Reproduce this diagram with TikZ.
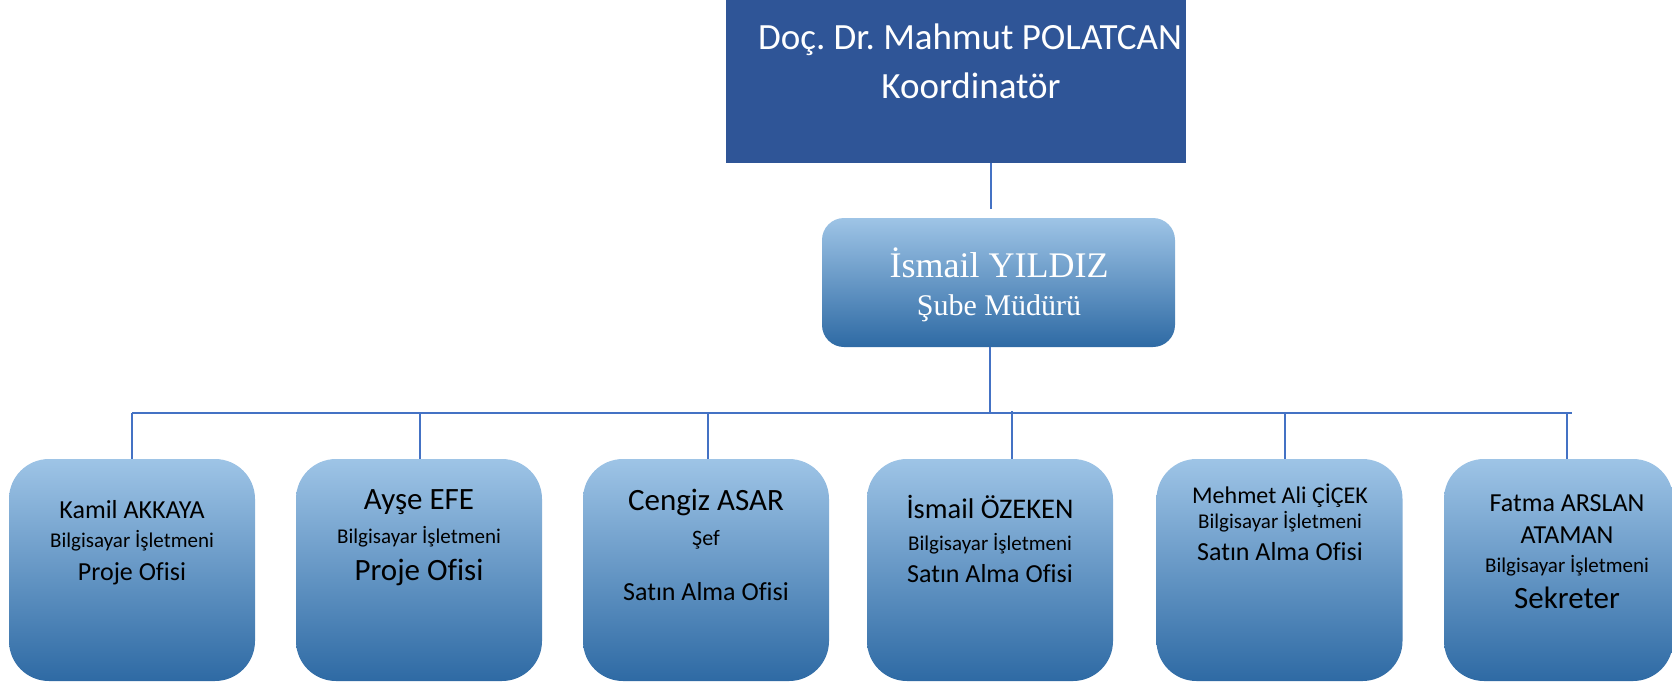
\documentclass[tikz,border=0pt]{standalone}
\usepackage{fontspec}
\setmainfont[Ligatures=NoCommon]{Carlito}
\newfontfamily\serifrm{Liberation Serif}
\frenchspacing
\definecolor{topblue}{RGB}{47,85,151}
\definecolor{cTop}{RGB}{158,196,230}
\definecolor{cMid}{RGB}{96,158,214}
\definecolor{cBot}{RGB}{46,106,164}
\definecolor{lineblue}{RGB}{68,114,196}
\tikzset{
  topbox/.style={rectangle, fill=topblue, draw=none, minimum width=460pt, minimum height=163pt, inner sep=0pt},
  midbox/.style={rectangle, rounded corners=22pt, top color=cTop, middle color=cMid, bottom color=cBot, draw=none, minimum width=353pt, minimum height=129pt, inner sep=0pt},
  childbox/.style={rectangle, rounded corners=40pt, top color=cTop, middle color=cMid, bottom color=cBot, draw=none, minimum width=246pt, minimum height=222pt, inner sep=0pt},
  conn/.style={draw=lineblue, line width=1.4pt},
  txt/.style={anchor=base, inner sep=0pt, text=black},
  wtxt/.style={anchor=base, inner sep=0pt, text=white},
  fA/.style={font=\fontsize{21}{25}\selectfont},
  fB/.style={font=\fontsize{26}{30}\selectfont},
  fC/.style={font=\fontsize{31}{36}\selectfont}
}
\begin{document}
\begin{tikzpicture}[x=1pt,y=-1pt]
\useasboundingbox (0,0) rectangle (1672,683);
% boxes
\node[topbox] (top) at (956,81.5) {};
\node[midbox] (mid) at (998.5,282.5) {};
\node[childbox] (c1) at (132,570) {};
\node[childbox] (c2) at (419,570) {};
\node[childbox] (c3) at (706,570) {};
\node[childbox] (c4) at (990,570) {};
\node[childbox] (c5) at (1279.5,570) {};
\node[childbox, minimum width=229pt] (c6) at (1558.5,570) {};
% connectors
\coordinate (k1) at (991,209);
\coordinate (k2) at (990,413);
\coordinate (busL) at (132,413);
\coordinate (busR) at (1572,413);
\coordinate (j1) at (132,413);
\coordinate (j2) at (420,413);
\coordinate (j3) at (708,413);
\coordinate (j4) at (1012,411);
\coordinate (j5) at (1285,413);
\coordinate (j6) at (1567,413);
\draw[conn] (top.south -| k1) -- (k1);
\draw[conn] (mid.south -| k2) -- (k2);
\draw[conn] (busL) -- (busR);
\draw[conn] (j1) -- (j1 |- c1.north);
\draw[conn] (j2) -- (j2 |- c2.north);
\draw[conn] (j3) -- (j3 |- c3.north);
\draw[conn] (j4) -- (j4 |- c4.north);
\draw[conn] (j5) -- (j5 |- c5.north);
\draw[conn] (j6) -- (j6 |- c6.north);
% top text
\node[wtxt, font=\fontsize{37}{44}\selectfont] (topa) at (970,49) {Doç. Dr. Mahmut POLATCAN};
\node[wtxt, font=\fontsize{37}{44}\selectfont] (topb) at (971,98) {Koordinatör};
% middle text
\node[wtxt, font=\serifrm\fontsize{36}{42}\selectfont] (mida) at (999,277) {İsmail YILDIZ};
\node[wtxt, font=\serifrm\fontsize{30}{36}\selectfont] (midb) at (999,315) {Şube Müdürü};
% child 1
\node[txt, fB] (c1a) at (132,518) {Kamil AKKAYA};
\node[txt, fA] (c1b) at (132,547) {Bilgisayar İşletmeni};
\node[txt, fB] (c1c) at (132,580) {Proje Ofisi};
% child 2
\node[txt, fC] (c2a) at (419,509) {Ayşe EFE};
\node[txt, fA] (c2b) at (419,543) {Bilgisayar İşletmeni};
\node[txt, fC] (c2c) at (419,580) {Proje Ofisi};
% child 3
\node[txt, fC] (c3a) at (706,510) {Cengiz ASAR};
\node[txt, font=\fontsize{22}{26}\selectfont] (c3b) at (706,545) {Şef};
\node[txt, fB] (c3c) at (706,600) {Satın Alma Ofisi};
% child 4
\node[txt, font=\fontsize{28.5}{34}\selectfont] (c4a) at (990,518) {İsmail ÖZEKEN};
\node[txt, fA] (c4b) at (990,550) {Bilgisayar İşletmeni};
\node[txt, fB] (c4c) at (990,582) {Satın Alma Ofisi};
% child 5
\node[txt, font=\fontsize{24}{28}\selectfont] (c5a) at (1280,503) {Mehmet Ali ÇİÇEK};
\node[txt, fA] (c5b) at (1280,528) {Bilgisayar İşletmeni};
\node[txt, fB] (c5c) at (1280,560) {Satın Alma Ofisi};
% child 6
\node[txt, fB] (c6a) at (1567,511) {Fatma ARSLAN};
\node[txt, fB] (c6b) at (1567,543) {ATAMAN};
\node[txt, fA] (c6c) at (1567,572) {Bilgisayar İşletmeni};
\node[txt, fC] (c6d) at (1567,608) {Sekreter};
\end{tikzpicture}
\end{document}
